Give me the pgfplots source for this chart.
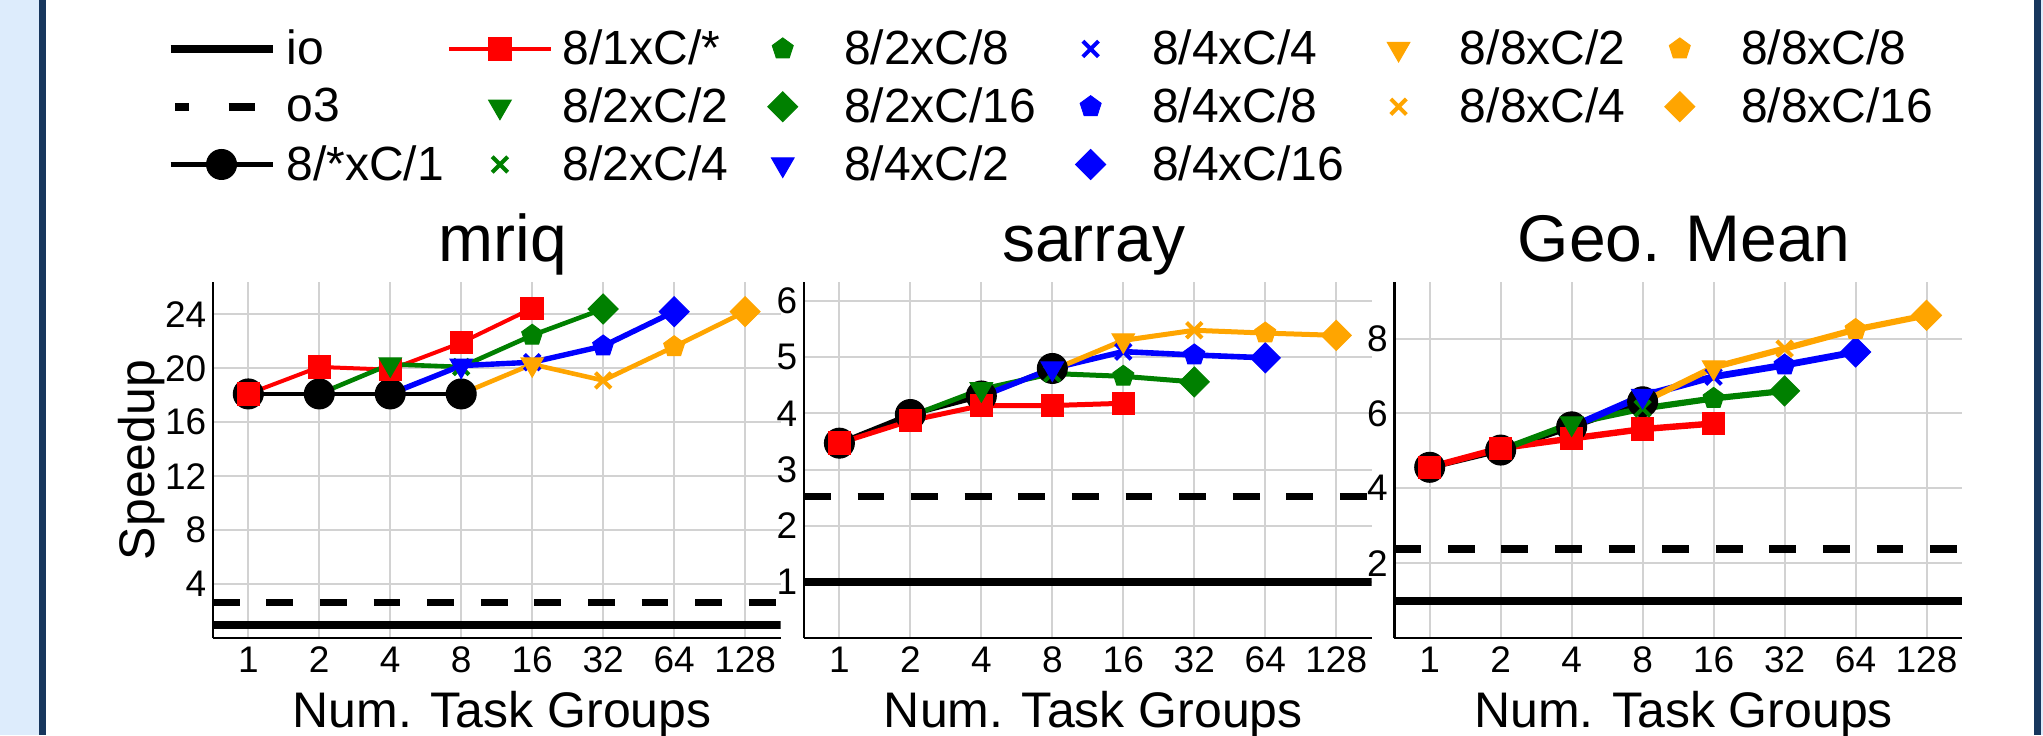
\documentclass[border=0pt]{standalone}
\usepackage{pgfplots}
\pgfplotsset{compat=1.18}
\usepackage{fontspec}
\setmainfont{Liberation Sans}
\usetikzlibrary{plotmarks}
\definecolor{mgreen}{RGB}{0,128,0}
\definecolor{morange}{RGB}{255,165,0}
\definecolor{mblue}{RGB}{0,0,255}
\definecolor{mred}{RGB}{255,0,0}
\definecolor{lightbg}{RGB}{221,236,252}
\definecolor{darkbd}{RGB}{23,54,93}
\newcommand\fs[1]{\fontsize{#1}{#1}\selectfont}
\pgfplotsset{
  panel/.style={
    scale only axis, width=283.9pt, height=178pt, anchor=south west,
    xmin=-0.5, xmax=7.5, ymin=0,
    xtick={0,...,7}, xticklabels={1,2,4,8,16,32,64,128},
    axis x line*=bottom, axis y line*=left,
    axis line style={line width=1.3pt, -},
    grid=major, major grid style={line width=1pt, gray!35},
    major tick length=0pt,
    tick label style={font=\fs{18.5}, inner sep=0pt},
    yticklabel style={xshift=-3.1pt},
    xticklabel style={yshift=-4.3pt},
    /pgf/number format/assume math mode=true,
    xlabel={Num. Task Groups},
    xlabel style={font=\fs{25}, at={(axis description cs:0.5097,0)}, anchor=base, yshift=-44.5pt},
    title style={font=\fs{33}, at={(axis description cs:0.5106,1)}, anchor=base, yshift=4.3pt},
  },
  iol/.style={black, line width=4pt},
  o3l/.style={black, line width=3.8pt, dash pattern=on 13.4pt off 13.4pt},
  o3leg/.style={legend image code/.code={\path (0pt,0pt) (51pt,0pt); \draw[##1, dash pattern=on 7pt off 19.75pt on 13.25pt off 30pt] (2.25pt,0pt) -- (51pt,0pt);}},
  blk/.style={black, line width=2.2pt, mark=*, mark size=7.5pt, mark options={line width=0.5pt}},
  rd/.style={mred, line width=2.2pt, mark=square*, mark size=5.6pt, mark options={line width=0.5pt}},
  ln/.style={line width=2.3pt, no markers, forget plot},
  lnb/.style={line width=2.7pt, no markers, forget plot},
  tri/.style={only marks, mark=triangle*, mark size=6.5pt, mark options={rotate=180, line width=0.5pt}},
  xx/.style={only marks, mark=x, mark size=5.5pt, mark options={line width=2pt}},
  pent/.style={only marks, mark=pentagon*, mark size=5.5pt, mark options={line width=0.5pt}},
  dia/.style={only marks, mark=square*, mark size=5.3pt, mark options={rotate=45, line width=0.5pt}},
}
\begin{document}
\begin{tikzpicture}
\path[use as bounding box] (0,0) rectangle (1021.5pt,367.5pt);
\fill[lightbg] (0,0) rectangle (1021.5pt,367.5pt);
\fill[white] (23pt,0) rectangle (1017pt,367.5pt);
\fill[darkbd] (19.5pt,0) rectangle (23pt,367.5pt);
\fill[darkbd] (1017pt,0) rectangle (1020.5pt,367.5pt);

% ---------------- mriq ----------------
\begin{axis}[panel, at={(106.4pt,48.5pt)}, ymax=26.4, ytick={4,8,12,16,20,24},
  title={mriq}, ylabel={Speedup},
  ylabel style={font=\fs{25}, at={(axis description cs:-0.1256,0.5)}, anchor=center},
  legend columns=3, transpose legend, legend cell align=left,
  legend image code/.code={\path (0pt,0pt) (51pt,0pt); \draw[mark repeat=2,mark phase=2,#1] plot coordinates {(0pt,0pt) (25.5pt,0pt) (51pt,0pt)};},
  legend style={at={(axis description cs:-0.0815,1.719)}, anchor=north west, draw=none, fill=none,
    inner sep=0pt, outer sep=0pt, font=\fs{24},
    nodes={inner xsep=0pt, inner ysep=2pt},
    row sep=6pt, column sep=0pt,
    /tikz/every odd column/.append style={column sep=5pt},
    /tikz/every even column/.append style={column sep=1.5pt}},
]
\addplot[iol] coordinates {(-0.5,1) (7.5,1)}; \addlegendentry{io}
\addplot[o3l, o3leg] coordinates {(-0.5,2.64) (7.5,2.64)}; \addlegendentry{o3}
\addplot[blk] coordinates {(0,18.1) (1,18.1) (2,18.1) (3,18.1)}; \addlegendentry{8/*xC/1}
\addplot[rd, line width=2pt] coordinates {(0,18.1) (1,20.1) (2,19.9) (3,21.9) (4,24.45)}; \addlegendentry{8/1xC/*}
\addplot[mgreen, ln] coordinates {(1,18.1) (2,20.3) (3,20.1) (4,22.45) (5,24.4)};
\addplot[mgreen, tri] coordinates {(2,20.3)}; \addlegendentry{8/2xC/2}
\addplot[mgreen, xx] coordinates {(3,20.1)}; \addlegendentry{8/2xC/4}
\addplot[mgreen, pent] coordinates {(4,22.45)}; \addlegendentry{8/2xC/8}
\addplot[mgreen, dia] coordinates {(5,24.4)}; \addlegendentry{8/2xC/16}
\addplot[mblue, lnb] coordinates {(2,18.1) (3,20.2) (4,20.45) (5,21.65) (6,24.2)};
\addplot[mblue, tri] coordinates {(3,20.2)}; \addlegendentry{8/4xC/2}
\addplot[mblue, xx] coordinates {(4,20.45)}; \addlegendentry{8/4xC/4}
\addplot[mblue, pent] coordinates {(5,21.65)}; \addlegendentry{8/4xC/8}
\addplot[mblue, dia] coordinates {(6,24.2)}; \addlegendentry{8/4xC/16}
\addplot[morange, ln] coordinates {(3,18.1) (4,20.3) (5,19.1) (6,21.6) (7,24.2)};
\addplot[morange, tri] coordinates {(4,20.3)}; \addlegendentry{8/8xC/2}
\addplot[morange, xx] coordinates {(5,19.1)}; \addlegendentry{8/8xC/4}
\addlegendimage{empty legend}\addlegendentry{}
\addplot[morange, pent] coordinates {(6,21.6)}; \addlegendentry{8/8xC/8}
\addplot[morange, dia] coordinates {(7,24.2)}; \addlegendentry{8/8xC/16}
\addlegendimage{empty legend}\addlegendentry{}
\end{axis}

% ---------------- sarray ----------------
\begin{axis}[panel, at={(401.95pt,48.5pt)}, ymax=6.34, ytick={1,2,3,4,5,6}, title={sarray},
  rd/.append style={line width=2.5pt}, blk/.append style={line width=2.5pt},
  ln/.append style={line width=2.5pt}, lnb/.append style={line width=2.8pt}]
\addplot[iol] coordinates {(-0.5,1) (7.5,1)};
\addplot[o3l] coordinates {(-0.5,2.52) (7.5,2.52)};
\addplot[blk] coordinates {(0,3.47) (1,3.98) (2,4.31) (3,4.8)};
\addplot[rd] coordinates {(0,3.47) (1,3.87) (2,4.14) (3,4.14) (4,4.18)};
\addplot[mgreen, ln] coordinates {(1,3.95) (2,4.43) (3,4.71) (4,4.66) (5,4.56)};
\addplot[mgreen, tri] coordinates {(2,4.43)};
\addplot[mgreen, xx] coordinates {(3,4.71)};
\addplot[mgreen, pent] coordinates {(4,4.66)};
\addplot[mgreen, dia] coordinates {(5,4.56)};
\addplot[mblue, lnb] coordinates {(2,4.3) (3,4.8) (4,5.1) (5,5.04) (6,4.99)};
\addplot[mblue, tri] coordinates {(3,4.8)};
\addplot[mblue, xx] coordinates {(4,5.1)};
\addplot[mblue, pent] coordinates {(5,5.04)};
\addplot[mblue, dia] coordinates {(6,4.99)};
\addplot[morange, ln] coordinates {(3,4.77) (4,5.3) (5,5.48) (6,5.43) (7,5.39)};
\addplot[morange, tri] coordinates {(4,5.3)};
\addplot[morange, xx] coordinates {(5,5.48)};
\addplot[morange, pent] coordinates {(6,5.43)};
\addplot[morange, dia] coordinates {(7,5.39)};
\end{axis}

% ---------------- Geo. Mean ----------------
\begin{axis}[panel, at={(697.1pt,48.5pt)}, ymax=9.51, ytick={2,4,6,8}, title={Geo. Mean},
  rd/.append style={line width=3.2pt}, blk/.append style={line width=3pt},
  ln/.append style={line width=3.1pt}, lnb/.append style={line width=3.4pt}]
\addplot[iol] coordinates {(-0.5,1) (7.5,1)};
\addplot[o3l] coordinates {(-0.5,2.38) (7.5,2.38)};
\addplot[blk] coordinates {(0,4.56) (1,5.02) (2,5.64) (3,6.31)};
\addplot[rd] coordinates {(0,4.56) (1,5.07) (2,5.33) (3,5.58) (4,5.73)};
\addplot[mgreen, ln] coordinates {(1,5.02) (2,5.73) (3,6.13) (4,6.4) (5,6.6)};
\addplot[mgreen, tri] coordinates {(2,5.73)};
\addplot[mgreen, xx] coordinates {(3,6.13)};
\addplot[mgreen, pent] coordinates {(4,6.4)};
\addplot[mgreen, dia] coordinates {(5,6.6)};
\addplot[mblue, lnb] coordinates {(2,5.64) (3,6.47) (4,6.98) (5,7.29) (6,7.64)};
\addplot[mblue, tri] coordinates {(3,6.47)};
\addplot[mblue, xx] coordinates {(4,6.98)};
\addplot[mblue, pent] coordinates {(5,7.29)};
\addplot[mblue, dia] coordinates {(6,7.64)};
\addplot[morange, ln] coordinates {(3,6.3) (4,7.23) (5,7.73) (6,8.24) (7,8.62)};
\addplot[morange, tri] coordinates {(4,7.23)};
\addplot[morange, xx] coordinates {(5,7.73)};
\addplot[morange, pent] coordinates {(6,8.24)};
\addplot[morange, dia] coordinates {(7,8.62)};
\end{axis}
\end{tikzpicture}
\end{document}
